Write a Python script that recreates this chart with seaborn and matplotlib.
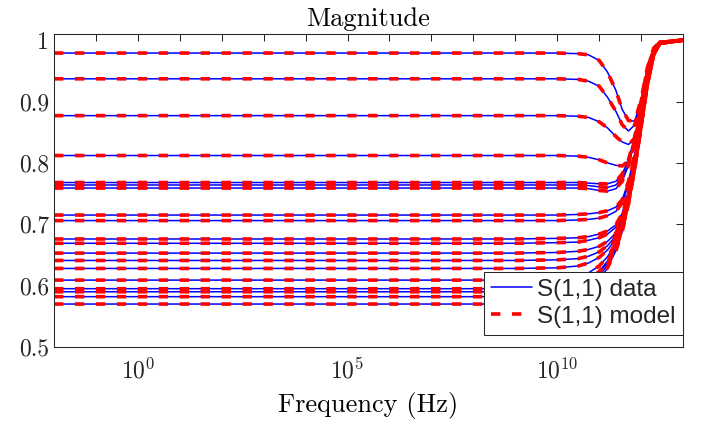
import numpy as np
import pandas as pd
import seaborn as sns
import matplotlib
matplotlib.use("Agg")
import matplotlib.pyplot as plt
from matplotlib.lines import Line2D

# frequency samples (Hz) shared by every curve
freq_hz = [1e-2, 1e9, 1e10, 3.16e10, 5.62e10, 1e11, 1.58e11, 2.51e11,
           3.55e11, 5.01e11, 7.08e11, 1e12, 1.41e12, 2.0e12, 2.82e12, 1e13]

# |S11|: upper curves that dip before the rise
dip_curves = [
    [.979, .979, .979, .978, .976, .967, .948, .918, .887, .869, .868, .903, .955, .987, .997, 1.0],
    [.937, .937, .937, .936, .933, .925, .907, .884, .862, .852, .862, .900, .954, .985, .997, 1.0],
    [.877, .877, .877, .876, .874, .867, .857, .843, .834, .830, .840, .885, .946, .984, .996, 1.0],
    [.812, .812, .812, .811, .809, .805, .800, .796, .795, .803, .830, .885, .942, .982, .996, 1.0],
]

# middle group, nearly flat then a steep rise
mid_curves = [
    [.768, .768, .768, .768, .767, .766, .766, .770, .782, .805, .843, .893, .947, .984, .996, 1.0],
    [.764, .764, .764, .764, .763, .761, .760, .764, .776, .800, .840, .891, .946, .984, .996, 1.0],
    [.759, .759, .759, .759, .758, .755, .754, .758, .770, .796, .837, .889, .945, .983, .996, 1.0],
    [.715, .715, .715, .716, .717, .719, .722, .728, .740, .770, .815, .875, .938, .980, .995, 1.0],
    [.706, .706, .706, .707, .708, .710, .714, .721, .735, .765, .812, .873, .937, .980, .995, 1.0],
]

# lower group, rising earlier
low_curves = [
    [.676, .676, .677, .678, .680, .684, .689, .699, .718, .755, .806, .868, .934, .979, .995, 1.0],
    [.669, .669, .670, .671, .674, .678, .684, .695, .715, .752, .804, .867, .933, .979, .995, 1.0],
    [.653, .653, .654, .656, .659, .664, .672, .686, .709, .748, .801, .865, .932, .978, .995, 1.0],
    [.641, .641, .642, .644, .648, .655, .665, .681, .705, .745, .799, .864, .931, .978, .995, 1.0],
    [.628, .628, .629, .632, .637, .646, .658, .676, .701, .742, .797, .862, .930, .978, .995, 1.0],
    [.609, .609, .610, .614, .621, .632, .647, .669, .697, .739, .795, .861, .929, .977, .995, 1.0],
    [.595, .595, .596, .601, .610, .623, .640, .665, .694, .737, .793, .860, .929, .977, .995, 1.0],
    [.590, .590, .591, .596, .606, .620, .638, .663, .693, .736, .793, .860, .928, .977, .995, 1.0],
    [.582, .582, .583, .589, .600, .615, .634, .661, .691, .735, .792, .859, .928, .977, .995, 1.0],
    [.570, .570, .572, .579, .591, .608, .629, .657, .688, .733, .791, .858, .927, .977, .995, 1.0],
]

series_labels = ["S(1,1) data", "S(1,1) model"]
x_tick_labels = ["", "", r"$10^{0}$", "", "", "", "", r"$10^{5}$", "", "", "", "",
                 r"$10^{10}$", "", "", ""]
y_ticks = [0.5, 0.6, 0.7, 0.8, 0.9, 1.0]
y_tick_labels = ["0.5", "0.6", "0.7", "0.8", "0.9", "1"]

# long table for seaborn: model is drawn on top of the data curves
all_curves = dip_curves + mid_curves + low_curves
rows = []
for kind in ["data", "model"]:
    for i, vals in enumerate(all_curves):
        for f, v in zip(freq_hz, vals):
            rows.append({"freq": f, "mag": v, "curve": i, "kind": kind})
df = pd.DataFrame(rows)

sns.set_style("white")
plt.rcParams["font.family"] = "cmr10"
plt.rcParams["mathtext.fontset"] = "cm"
plt.rcParams["axes.formatter.use_mathtext"] = True

axis_col = "#262626"
fig = plt.figure(figsize=(7.04, 4.24), dpi=100)
ax = fig.add_axes([0.0767, 0.1816, 0.8935, 0.7382])

sns.lineplot(data=df, x="freq", y="mag", hue="kind", style="kind", size="kind",
             units="curve", estimator=None, sort=False, legend=False,
             palette={"data": "#0000ff", "model": "#ff0000"},
             dashes={"data": "", "model": (2.6, 3.2)},
             sizes={"data": 1.1, "model": 2.6}, ax=ax)

ax.set_xscale("log")
ax.set_xlim(1e-2, 1e13)
ax.set_ylim(0.5, 1.01)
ax.set_xticks(10.0 ** np.arange(-2, 14))
ax.set_xticklabels(x_tick_labels)
ax.xaxis.set_minor_locator(matplotlib.ticker.NullLocator())
ax.set_yticks(y_ticks)
ax.set_yticklabels(y_tick_labels)

ax.tick_params(direction="in", length=5, width=0.75, colors=axis_col,
               labelsize=17, top=True, right=True)
ax.tick_params(axis="x", pad=8)
for s in ax.spines.values():
    s.set_color(axis_col)
    s.set_linewidth(0.75)

ax.set_title("Magnitude", fontsize=19, pad=6, color="black")
ax.set_xlabel("Frequency (Hz)", fontsize=19, labelpad=6, color="black")
ax.set_ylabel("")

handles = [Line2D([], [], color="#0000ff", lw=1.1),
           Line2D([], [], color="#ff0000", lw=2.6, dashes=(2.6, 3.2))]
leg = ax.legend(handles, series_labels, loc="lower right",
                bbox_to_anchor=(1.0, 0.038), borderaxespad=0,
                prop={"family": "Liberation Sans", "size": 17.5},
                handlelength=1.7, handletextpad=0.2, labelspacing=0.2,
                borderpad=0.3, fancybox=False, framealpha=1, edgecolor=axis_col)
leg.get_frame().set_linewidth(0.75)

fig.savefig("out.png", dpi=100)
